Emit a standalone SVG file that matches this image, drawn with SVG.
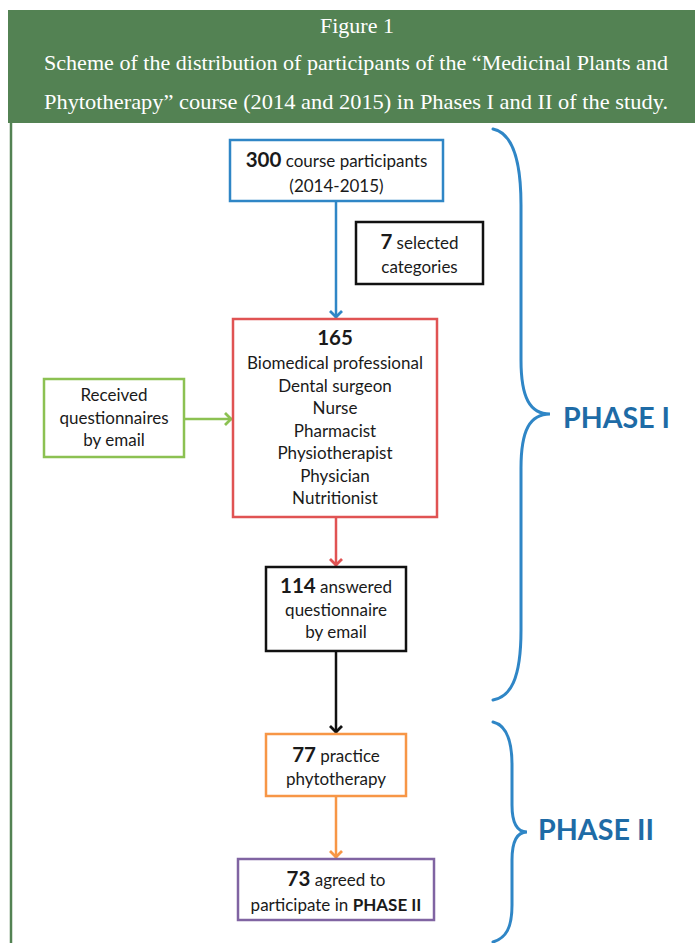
<svg xmlns="http://www.w3.org/2000/svg" width="695" height="943" viewBox="0 0 695 943">
<style>
.hdr{font-family:"Liberation Serif","Times New Roman",serif;font-size:22px;fill:#ffffff;text-anchor:middle}
.t{font-family:Lato,"Liberation Sans",Arial,sans-serif;font-size:17px;fill:#1a1a1a;text-anchor:middle}
.b{font-weight:bold;font-size:20.5px}
.bb{font-weight:bold}
.box{fill:#ffffff;stroke-width:2.5}
.ph{font-family:Lato,"Liberation Sans",Arial,sans-serif;font-weight:bold;font-size:28px;fill:#1E6BA6}
.brace{fill:none;stroke:#2F86C6;stroke-width:3;stroke-linecap:round}
</style>
<defs>
<marker id="aBlue" markerUnits="userSpaceOnUse" markerWidth="16" markerHeight="16" viewBox="-10 -8 12 16" refX="0" refY="0" orient="auto"><path d="M-7,-6 L-1,0 L-7,6" fill="none" stroke="#2F86C6" stroke-width="2.8"/></marker>
<marker id="aRed" markerUnits="userSpaceOnUse" markerWidth="16" markerHeight="16" viewBox="-10 -8 12 16" refX="0" refY="0" orient="auto"><path d="M-7,-6 L-1,0 L-7,6" fill="none" stroke="#E05353" stroke-width="2.8"/></marker>
<marker id="aGreen" markerUnits="userSpaceOnUse" markerWidth="16" markerHeight="16" viewBox="-10 -8 12 16" refX="0" refY="0" orient="auto"><path d="M-7,-6 L-1,0 L-7,6" fill="none" stroke="#8CC152" stroke-width="2.8"/></marker>
<marker id="aBlack" markerUnits="userSpaceOnUse" markerWidth="16" markerHeight="16" viewBox="-10 -8 12 16" refX="0" refY="0" orient="auto"><path d="M-7,-6 L-1,0 L-7,6" fill="none" stroke="#111111" stroke-width="2.8"/></marker>
<marker id="aOrange" markerUnits="userSpaceOnUse" markerWidth="16" markerHeight="16" viewBox="-10 -8 12 16" refX="0" refY="0" orient="auto"><path d="M-7,-6 L-1,0 L-7,6" fill="none" stroke="#F79646" stroke-width="2.8"/></marker>
</defs>
<rect x="0" y="0" width="695" height="943" fill="#ffffff"/>
<g id="header">
<rect x="8" y="10" width="687" height="113" fill="#538253"/>
<line x1="11" y1="122" x2="11" y2="943" stroke="#538253" stroke-width="2.5"/>
<text class="hdr" x="357" y="33">Figure 1</text>
<text class="hdr" x="356" y="70" textLength="624" lengthAdjust="spacingAndGlyphs">Scheme of the distribution of participants of the “Medicinal Plants and</text>
<text class="hdr" x="356" y="109" textLength="624" lengthAdjust="spacingAndGlyphs">Phytotherapy” course (2014 and 2015) in Phases I and II of the study.</text>
</g>
<g id="connectors">
<line x1="336" y1="201" x2="336" y2="318" stroke="#2F86C6" stroke-width="2.5" marker-end="url(#aBlue)"/>
<line x1="184" y1="419" x2="232" y2="419" stroke="#8CC152" stroke-width="2.5" marker-end="url(#aGreen)"/>
<line x1="336" y1="517" x2="336" y2="566" stroke="#E05353" stroke-width="2.5" marker-end="url(#aRed)"/>
<line x1="336" y1="651" x2="336" y2="733" stroke="#111111" stroke-width="2.5" marker-end="url(#aBlack)"/>
<line x1="336" y1="796" x2="336" y2="858" stroke="#F79646" stroke-width="2.5" marker-end="url(#aOrange)"/>
</g>
<g id="n300">
<rect class="box" x="230" y="140" width="213" height="61" stroke="#2F86C6"/>
<text class="t" x="336.5" y="167"><tspan class="b">300</tspan> course participants</text>
<text class="t" x="336.5" y="192">(2014-2015)</text>
</g>
<g id="n7">
<rect class="box" x="356" y="222" width="127" height="62" stroke="#111111" stroke-width="2.8"/>
<text class="t" x="419.5" y="249"><tspan class="b">7</tspan> selected</text>
<text class="t" x="419.5" y="273">categories</text>
</g>
<g id="n165">
<rect class="box" x="233" y="319" width="204" height="198" stroke="#E05353"/>
<text class="t b" x="335" y="345">165</text>
<text class="t" x="335" y="369">Biomedical professional</text>
<text class="t" x="335" y="392">Dental surgeon</text>
<text class="t" x="335" y="414">Nurse</text>
<text class="t" x="335" y="437">Pharmacist</text>
<text class="t" x="335" y="459">Physiotherapist</text>
<text class="t" x="335" y="482">Physician</text>
<text class="t" x="335" y="504">Nutritionist</text>
</g>
<g id="nReceived">
<rect class="box" x="44" y="379" width="140" height="78" stroke="#8CC152"/>
<text class="t" x="114" y="401">Received</text>
<text class="t" x="114" y="424">questionnaires</text>
<text class="t" x="114" y="446">by email</text>
</g>
<g id="n114">
<rect class="box" x="266" y="567" width="140" height="84" stroke="#111111" stroke-width="2.8"/>
<text class="t" x="336" y="593"><tspan class="b">114</tspan> answered</text>
<text class="t" x="336" y="616">questionnaire</text>
<text class="t" x="336" y="638">by email</text>
</g>
<g id="n77">
<rect class="box" x="266" y="734" width="140" height="62" stroke="#F79646"/>
<text class="t" x="336" y="762"><tspan class="b">77</tspan> practice</text>
<text class="t" x="336" y="785">phytotherapy</text>
</g>
<g id="n73">
<rect class="box" x="238" y="859" width="196" height="61" stroke="#8064A2"/>
<text class="t" x="336" y="886"><tspan class="b">73</tspan> agreed to</text>
<text class="t" x="336" y="911">participate in <tspan class="bb">PHASE II</tspan></text>
</g>
<g id="phase1">
<path class="brace" d="M493,129 C512,133 521,160 521,205 L521,360 C521,398 530,414 550,414 C530,414 521,430 521,468 L521,630 C521,680 510,697 493,700"/>
<text class="ph" x="563" y="428" textLength="107" lengthAdjust="spacingAndGlyphs">PHASE I</text>
</g>
<g id="phase2">
<path class="brace" d="M493,722 C506,725 512,740 512,765 L512,805 C512,822 517,832 527,832 C517,832 512,842 512,860 L512,905 C512,928 506,938 493,942"/>
<text class="ph" x="538" y="840" textLength="116" lengthAdjust="spacingAndGlyphs">PHASE II</text>
</g>
</svg>
